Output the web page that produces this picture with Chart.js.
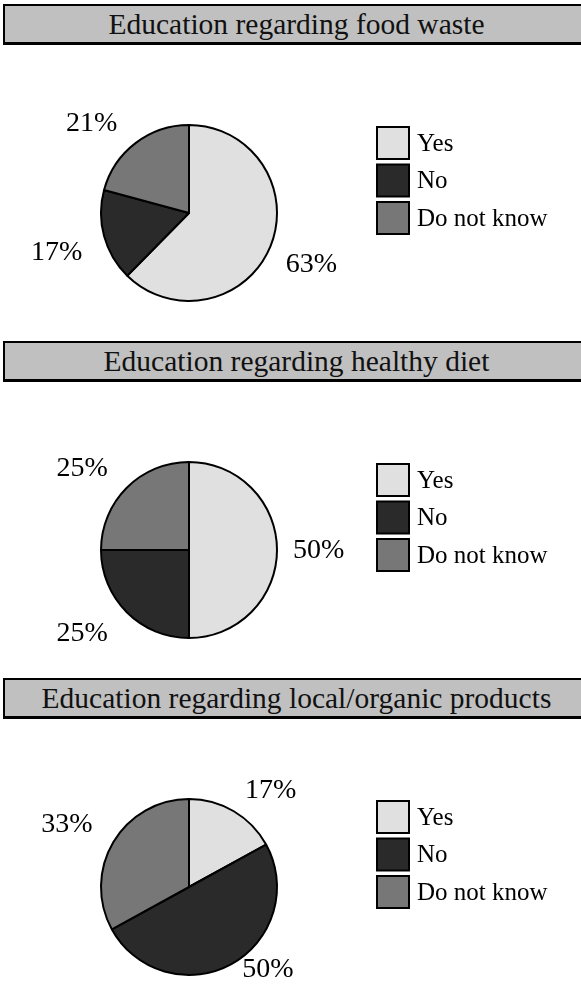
<!DOCTYPE html>
<html>
<head>
<meta charset="utf-8">
<title>Education survey</title>
<script src="https://cdn.jsdelivr.net/npm/chart.js@4.4.1/dist/chart.umd.min.js"></script>
<style>
  html, body {
    margin: 0;
    padding: 0;
    background: #fff;
    overflow: hidden;
  }
  #page {
    position: relative;
    width: 581px;
    height: 995px;
    overflow: hidden;
  }
  .panel {
    position: absolute;
    left: 0;
    width: 581px;
    height: 337px;
  }
  .title-bar {
    position: absolute;
    left: 3px;
    top: 4px;
    width: 600px;
    height: 36px;
    background: #c0c0c0;
    border: 2px solid #000;
    border-bottom-width: 3px;
    box-sizing: content-box;
    font-family: "Liberation Serif", "DejaVu Serif", serif;
    font-size: 29.5px;
    line-height: 36px;
    color: #111;
  }
  .title-bar span {
    position: absolute;
    left: 0;
    width: 583px;
    text-align: center;
  }
  .panel canvas {
    position: absolute;
    left: 0;
    top: 45px;
  }
</style>
</head>
<body>
<div id="page"></div>
<script>
// survey answers, percent of respondents
const categories = ['Yes', 'No', 'Do not know'];
const titles = [
  'Education regarding food waste',
  'Education regarding healthy diet',
  'Education regarding local/organic products'
];
const foodWaste = [63, 17, 21];
const healthyDiet = [50, 25, 25];
const localOrganic = [17, 50, 33];

const sliceColors = ['#e0e0e0', '#2a2a2a', '#777777'];
const SERIF = '"Liberation Serif", "DejaVu Serif", serif';

const PAGE_H = 995;
const PANEL_H = 337;
const CANVAS_TOP = 45;
const CANVAS_W = 581, CANVAS_H = 292;
const PIE_CX = 189, PIE_CY = 213 - CANVAS_TOP, PIE_R = 88;

// percent labels just outside each slice, box corner anchored on the rim,
// kept inside the visible page
const pctLabels = {
  id: 'pctLabels',
  afterDatasetsDraw(chart) {
    const ctx = chart.ctx;
    const ds = chart.data.datasets[0];
    const maxY = chart.options.visibleBottom - 25;
    ctx.save();
    ctx.font = '28px ' + SERIF;
    ctx.fillStyle = '#000';
    ctx.textAlign = 'center';
    ctx.textBaseline = 'middle';
    chart.getDatasetMeta(0).data.forEach((arc, i) => {
      const p = arc.getProps(['x', 'y', 'startAngle', 'endAngle', 'outerRadius'], true);
      const mid = (p.startAngle + p.endAngle) / 2;
      const dx = Math.cos(mid), dy = Math.sin(mid);
      const text = ds.data[i] + '%';
      const hw = ctx.measureText(text).width / 2 + 9;
      const hh = 13;
      const ax = p.x + dx * (p.outerRadius + 10);
      const ay = p.y + dy * (p.outerRadius + 10);
      const sx = Math.abs(dx) < 0.05 ? 0 : Math.sign(dx);
      const sy = Math.abs(dy) < 0.05 ? 0 : Math.sign(dy);
      const ty = Math.min(ay + sy * hh + 1, maxY);
      ctx.fillText(text, ax + sx * hw - 3, ty);
    });
    ctx.restore();
  }
};

// square legend to the right of the pie
const boxLegend = {
  id: 'boxLegend',
  afterDraw(chart) {
    const ctx = chart.ctx;
    const colors = chart.data.datasets[0].backgroundColor;
    const x = 377, y0 = 127 - CANVAS_TOP, size = 32, step = 37.5;
    ctx.save();
    ctx.font = '25px ' + SERIF;
    ctx.textAlign = 'left';
    ctx.textBaseline = 'middle';
    chart.data.labels.forEach((label, i) => {
      const y = y0 + i * step;
      ctx.fillStyle = colors[i];
      ctx.fillRect(x, y, size, size);
      ctx.lineWidth = 2;
      ctx.strokeStyle = '#000';
      ctx.strokeRect(x, y, size, size);
      ctx.fillStyle = '#000';
      ctx.fillText(label, x + size + 8, y + size / 2 + 1);
    });
    ctx.restore();
  }
};

function makePanel(index, title, values) {
  const top = index * PANEL_H;
  const panel = document.createElement('div');
  panel.className = 'panel';
  panel.style.top = top + 'px';

  const bar = document.createElement('div');
  bar.className = 'title-bar';
  const span = document.createElement('span');
  span.textContent = title;
  bar.appendChild(span);
  panel.appendChild(bar);

  const canvas = document.createElement('canvas');
  canvas.width = CANVAS_W;
  canvas.height = CANVAS_H;
  panel.appendChild(canvas);
  document.getElementById('page').appendChild(panel);

  new Chart(canvas, {
    type: 'pie',
    data: {
      labels: categories,
      datasets: [{
        data: values,
        backgroundColor: sliceColors,
        borderColor: '#000',
        borderWidth: 2
      }]
    },
    options: {
      responsive: false,
      animation: false,
      devicePixelRatio: 1,
      radius: PIE_R,
      visibleBottom: Math.min(CANVAS_H, PAGE_H - top - CANVAS_TOP),
      layout: {
        padding: {
          left: 0,
          right: CANVAS_W - 2 * PIE_CX,
          top: 2 * PIE_CY - CANVAS_H,
          bottom: 0
        }
      },
      plugins: {
        legend: { display: false },
        title: { display: false },
        tooltip: { enabled: false }
      }
    },
    plugins: [pctLabels, boxLegend]
  });
}

makePanel(0, titles[0], foodWaste);
makePanel(1, titles[1], healthyDiet);
makePanel(2, titles[2], localOrganic);
</script>
</body>
</html>
